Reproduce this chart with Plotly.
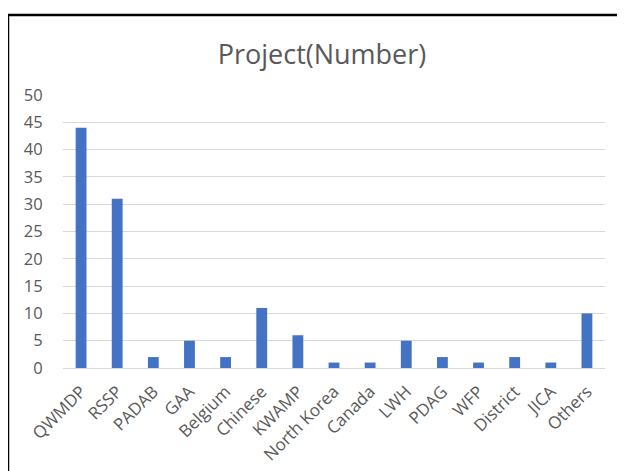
import plotly.graph_objects as go

categories = ["QWMDP", "RSSP", "PADAB", "GAA", "Belgium", "Chinese", "KWAMP",
              "North Korea", "Canada", "LWH", "PDAG", "WFP", "District", "JICA", "Others"]
values = [44, 31, 2, 5, 2, 11, 6, 1, 1, 5, 2, 1, 2, 1, 10]
title_text = "Project(Number)"
y_ticks = [0, 5, 10, 15, 20, 25, 30, 35, 40, 45, 50]

# the page places the figure at an 8px offset; size the figure to fill the rest
OFF = 8
W, H = 625 - OFF, 471 - OFF
L, R, T, B = 63 - OFF, 20, 95 - OFF, 471 - 368
pw, ph = W - L - R, H - T - B

def px_x(px):
    return (px - OFF - L) / pw

def px_y(py):
    return (H - B - (py - OFF)) / ph

fig = go.Figure(go.Bar(x=categories, y=values, marker_color="#4472C4",
                       marker_line_width=0))

font = "Open Sans"
fig.update_layout(
    width=W, height=H,
    margin=dict(l=L, r=R, t=T, b=B),
    paper_bgcolor="white", plot_bgcolor="white",
    bargap=0.7,
    showlegend=False,
    title=dict(text=title_text, x=px_x(322), xref="paper", xanchor="center",
               y=1 - (55 - OFF) / H, yanchor="middle",
               font=dict(family=font, size=27, color="#595959")),
    xaxis=dict(tickangle=-45, tickfont=dict(family=font, size=17, color="#595959"),
               showgrid=False, showline=True, linecolor="#D9D9D9", linewidth=1,
               ticks="outside", ticklen=6, tickcolor="rgba(0,0,0,0)", automargin=False),
    yaxis=dict(range=[0, 50], tickvals=y_ticks, tickfont=dict(family=font, size=16.5, color="#595959"),
               showgrid=True, gridcolor="#D9D9D9", gridwidth=1, zeroline=False,
               ticks="outside", ticklen=16, tickcolor="rgba(0,0,0,0)", automargin=False),
    shapes=[dict(type="rect", xref="paper", yref="paper",
                 x0=px_x(8), x1=px_x(680), y0=px_y(520), y1=px_y(15),
                 line=dict(color="black", width=2.5), fillcolor="rgba(0,0,0,0)", layer="above")],
)

fig.write_html("out.html")
